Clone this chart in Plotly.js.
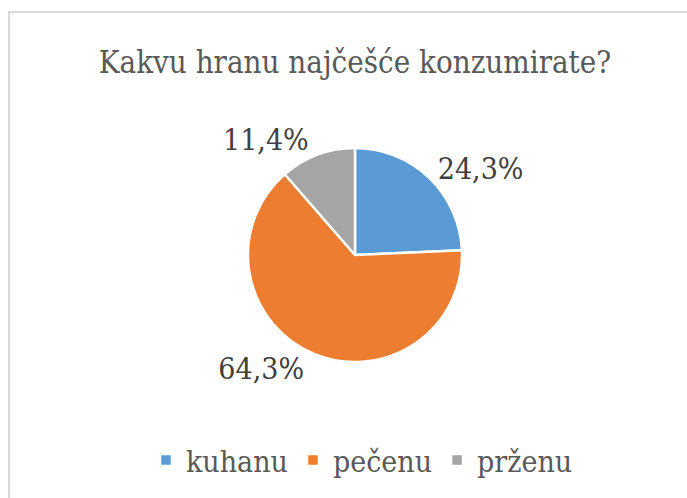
<!DOCTYPE html>
<html>
<head>
<meta charset="utf-8">
<script src="https://cdn.plot.ly/plotly-3.0.1.min.js"></script>
<style>
html,body{margin:0;padding:0;background:#fff;overflow:hidden;}
#wrap{position:relative;width:687px;height:498px;}
#frame{position:absolute;left:8px;top:11px;width:700px;height:520px;border:2px solid #d9d9d9;box-sizing:border-box;pointer-events:none;}
#chart{position:absolute;left:0;top:0;width:687px;height:498px;}
</style>
</head>
<body>
<div id="wrap">
<div id="chart"></div>
<div id="frame"></div>
</div>
<script>
const chartTitle = "Kakvu hranu najčešće konzumirate?";
const categories = ["kuhanu", "pečenu", "prženu"];
const values = [24.3, 64.3, 11.4];
const colors = ["#5B9BD5", "#ED7D31", "#A5A5A5"];

const W = 687, H = 498;
const cx = 355, cy = 255, R = 107;
const SERIF = "DejaVu Serif Condensed";

const trace = {
  type: "pie",
  labels: categories,
  values: values,
  sort: false,
  direction: "clockwise",
  rotation: 0,
  marker: {colors: colors, line: {color: "#ffffff", width: 2.5}},
  textposition: "outside",
  texttemplate: "%{percent:.1%}",
  textfont: {family: SERIF, size: 30, color: "#404040"},
  hoverinfo: "label+percent",
  domain: {x: [(cx - R) / W, (cx + R) / W], y: [(H - cy - R) / H, (H - cy + R) / H]},
  automargin: false
};

const layout = {
  width: W, height: H,
  margin: {l: 0, r: 0, t: 0, b: 0},
  paper_bgcolor: "#ffffff",
  separators: ",.",
  title: {
    text: chartTitle,
    font: {family: SERIF, size: 31, color: "#595959"},
    x: 355 / W, xanchor: "center",
    y: 1 - 62 / H, yanchor: "middle"
  },
  showlegend: true,
  legend: {
    orientation: "h",
    x: 362 / W, xanchor: "center",
    y: 1 - 460 / H, yanchor: "middle",
    font: {family: SERIF, size: 30, color: "#595959"},
    itemwidth: 30,
    traceorder: "normal"
  }
};

Plotly.newPlot("chart", [trace], layout, {displayModeBar: false, staticPlot: true});
</script>
</body>
</html>
